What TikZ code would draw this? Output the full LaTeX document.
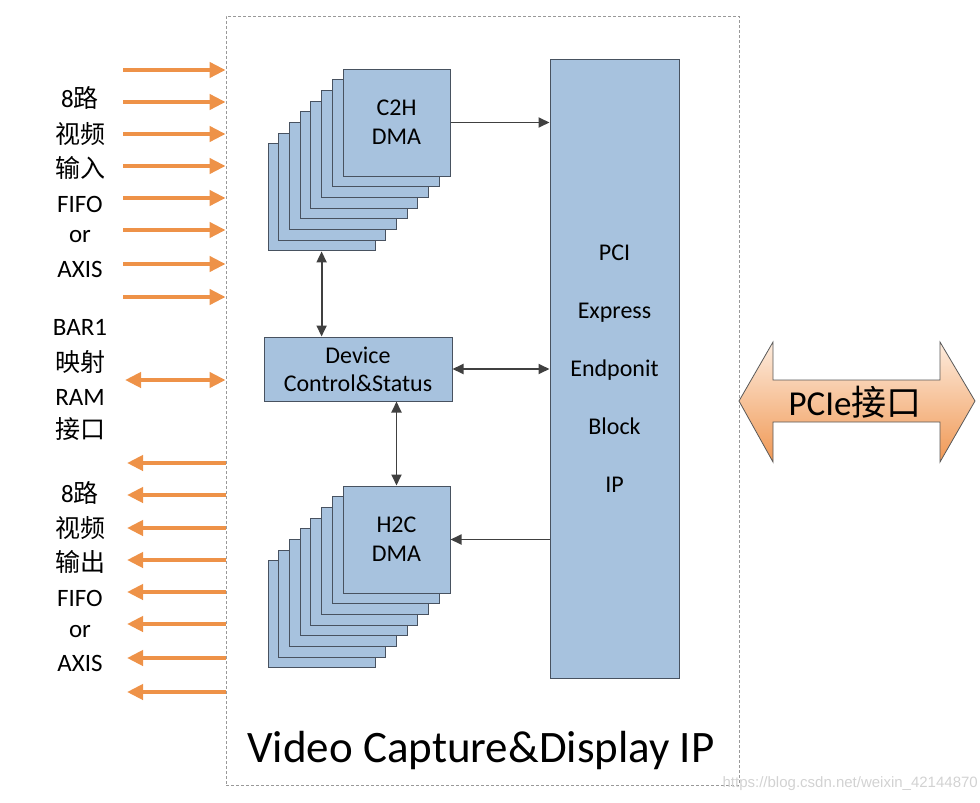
\documentclass[tikz,border=0pt]{standalone}
\usepackage{fontspec}
\setmainfont{Carlito}
\newfontfamily\cjk{Noto Sans CJK SC}
\newfontfamily\wmfont{Liberation Sans}
\usetikzlibrary{arrows.meta,shadows}
\definecolor{boxblue}{RGB}{167,194,222}
\definecolor{bord}{RGB}{72,82,96}
\definecolor{orng}{RGB}{238,146,72}
\definecolor{conng}{RGB}{64,64,64}
\definecolor{pcietop}{RGB}{253,236,222}
\definecolor{pciebot}{RGB}{240,152,84}
\begin{document}
\begin{tikzpicture}[x=1pt,y=-1pt,
  blk/.style={draw=bord, fill=boxblue, line width=1pt, inner sep=0pt, align=center,
    font=\fontsize{24}{29}\selectfont},
  dma/.style={blk, minimum width=107pt, minimum height=107pt},
  conn/.style={draw=conng, line width=1.8pt, -{Triangle[length=11pt,width=10pt]}},
  bconn/.style={draw=conng, line width=1.8pt, {Triangle[length=11pt,width=10pt]}-{Triangle[length=11pt,width=10pt]}},
  oarr/.style={draw=orng, line width=4.5pt, -{Triangle[length=16pt,width=15pt]}},
  boarr/.style={draw=orng, line width=4.5pt, {Triangle[length=16pt,width=15pt]}-{Triangle[length=16pt,width=15pt]}},
  lbl/.style={font=\fontsize{25}{25}\selectfont, inner sep=0pt, anchor=center}
]
\useasboundingbox (0,0) rectangle (980,803);

% frame
\node[draw=gray!80, dashed, dash pattern=on 3pt off 2pt, line width=0.8pt,
  minimum width=513pt, minimum height=769pt, inner sep=0pt] (frame) at (482.5,400.5) {};

% C2H stack
\foreach \i in {7,...,1} {
  \node[dma] (c2hs\i) at ({396.5-10.7*\i},{122.5+10.7*\i}) {};
}
\node[dma] (c2h) at (396.5,122.5) {C2H\\DMA};

% H2C stack
\foreach \i in {7,...,1} {
  \node[dma] (h2cs\i) at ({396.5-10.7*\i},{539.5+10.7*\i}) {};
}
\node[dma] (h2c) at (396.5,539.5) {H2C\\DMA};

% Device control
\node[blk, minimum width=188pt, minimum height=64pt, font=\fontsize{24}{28}\selectfont] (dev) at (358,369) {Device\\Control\&Status};

% PCI block
\node[blk, minimum width=129pt, minimum height=619pt, font=\fontsize{24}{58}\selectfont] (pci) at (614.5,368.5) {PCI\\Express\\Endponit\\Block\\IP};

% connectors
\draw[conn] (c2h.east) -- (c2h.east -| pci.west);
\draw[bconn] (c2hs7.south) -- (dev.north -| c2hs7.south);
\draw[bconn] (dev.east) -- (dev.east -| pci.west);
\draw[bconn] (dev.south -| h2c.north) -- (h2c.north);
\draw[conn] (h2c.east -| pci.west) -- (h2c.east);

% input arrows
\foreach \y [count=\k] in {70,102,134,166,198,230,264,297} {
  \coordinate (in\k) at (123,\y);
  \draw[oarr] (in\k) -- (in\k -| frame.west);
}
% BAR1 arrow
\coordinate (bar) at (125,380);
\draw[boarr] (bar) -- (bar -| frame.west);
% output arrows
\foreach \y [count=\k] in {463,495,528,560,592,624,658,692} {
  \coordinate (out\k) at (127,\y);
  \draw[oarr] (out\k -| frame.west) -- (out\k);
}

% left labels
\node[lbl] (l1) at (80,98) {8{\cjk 路}};
\node[lbl] (l2) at (80,134) {\cjk 视频};
\node[lbl] (l3) at (80,168) {\cjk 输入};
\node[lbl] (l4) at (80,204) {FIFO};
\node[lbl] (l5) at (80,237) {or};
\node[lbl] (l6) at (80,269) {AXIS};
\node[lbl] (l7) at (80,327) {BAR1};
\node[lbl] (l8) at (80,362) {\cjk 映射};
\node[lbl] (l9) at (80,397) {RAM};
\node[lbl] (l10) at (80,429) {\cjk 接口};
\node[lbl] (m1) at (80,493) {8{\cjk 路}};
\node[lbl] (m2) at (80,528) {\cjk 视频};
\node[lbl] (m3) at (80,562) {\cjk 输出};
\node[lbl] (m4) at (80,598) {FIFO};
\node[lbl] (m5) at (80,632) {or};
\node[lbl] (m6) at (80,663) {AXIS};

% PCIe double arrow
\shade[top color=pcietop, bottom color=pciebot, draw=gray!70!black, line width=0.8pt]
  (739,401) -- (773,342) -- (773,380) -- (940,380) -- (940,342) -- (975,401)
  -- (940,462) -- (940,422) -- (773,422) -- (773,462) -- cycle;
\node[font=\fontsize{35}{35}\selectfont, inner sep=0pt] (pcie) at (855,402) {PCIe{\cjk 接口}};

% title
\node[font=\fontsize{45}{45}\selectfont, inner sep=0pt] (title) at (481,750) {Video Capture\&Display IP};

% watermark
\node[font=\wmfont\fontsize{15}{15}\selectfont, text=gray!35, anchor=east, inner sep=0pt] (wm) at (978,784) {https://blog.csdn.net/weixin\_42144870};
\end{tikzpicture}
\end{document}
